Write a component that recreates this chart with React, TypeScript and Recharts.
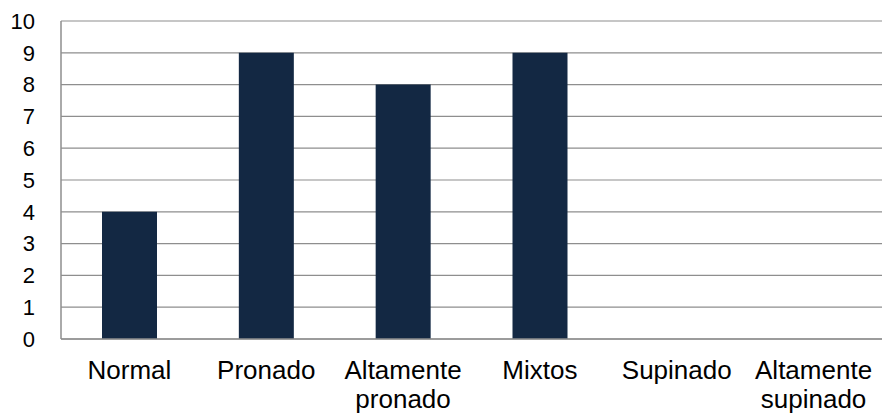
import { BarChart, Bar, XAxis, YAxis, CartesianGrid } from "recharts";

const categories = [
  "Normal",
  "Pronado",
  "Altamente pronado",
  "Mixtos",
  "Supinado",
  "Altamente supinado",
];
const counts = [4, 9, 8, 9, 0, 0];
const yTicks = [0, 1, 2, 3, 4, 5, 6, 7, 8, 9, 10];

const data = categories.map((name, i) => ({ name, value: counts[i] }));

function CategoryTick(props: any) {
  const { x, y, payload } = props;
  const words = String(payload.value).split(" ");
  return (
    <text
      x={x}
      y={y}
      textAnchor="middle"
      fill="#000"
      fontSize={26}
      fontFamily="'Liberation Sans', Arial, sans-serif"
    >
      {words.map((w, i) => (
        <tspan key={i} x={x} dy={i === 0 ? 40 : 29}>
          {w}
        </tspan>
      ))}
    </text>
  );
}

export default function App() {
  return (
    <div style={{ position: "absolute", left: 0, top: 0, background: "#fff" }}>
      <BarChart
        width={882}
        height={414}
        data={data}
        margin={{ top: 21, right: 0, bottom: 0, left: 0 }}
      >
        <CartesianGrid vertical={false} stroke="#8e8e8e" strokeWidth={1.2} />
        <XAxis
          dataKey="name"
          height={75}
          tickLine={false}
          tickSize={0}
          tickMargin={0}
          interval={0}
          axisLine={{ stroke: "#8e8e8e", strokeWidth: 1.5 }}
          tick={<CategoryTick />}
        />
        <YAxis
          width={61}
          domain={[0, 10]}
          ticks={yTicks}
          interval={0}
          tickLine={false}
          tickSize={0}
          tickMargin={26}
          axisLine={{ stroke: "#8e8e8e", strokeWidth: 1.5 }}
          tick={{
            fill: "#000",
            fontSize: 22,
            fontFamily: "'Liberation Sans', Arial, sans-serif",
          }}
        />
        <Bar dataKey="value" fill="#132843" barSize={55} isAnimationActive={false} />
      </BarChart>
    </div>
  );
}
